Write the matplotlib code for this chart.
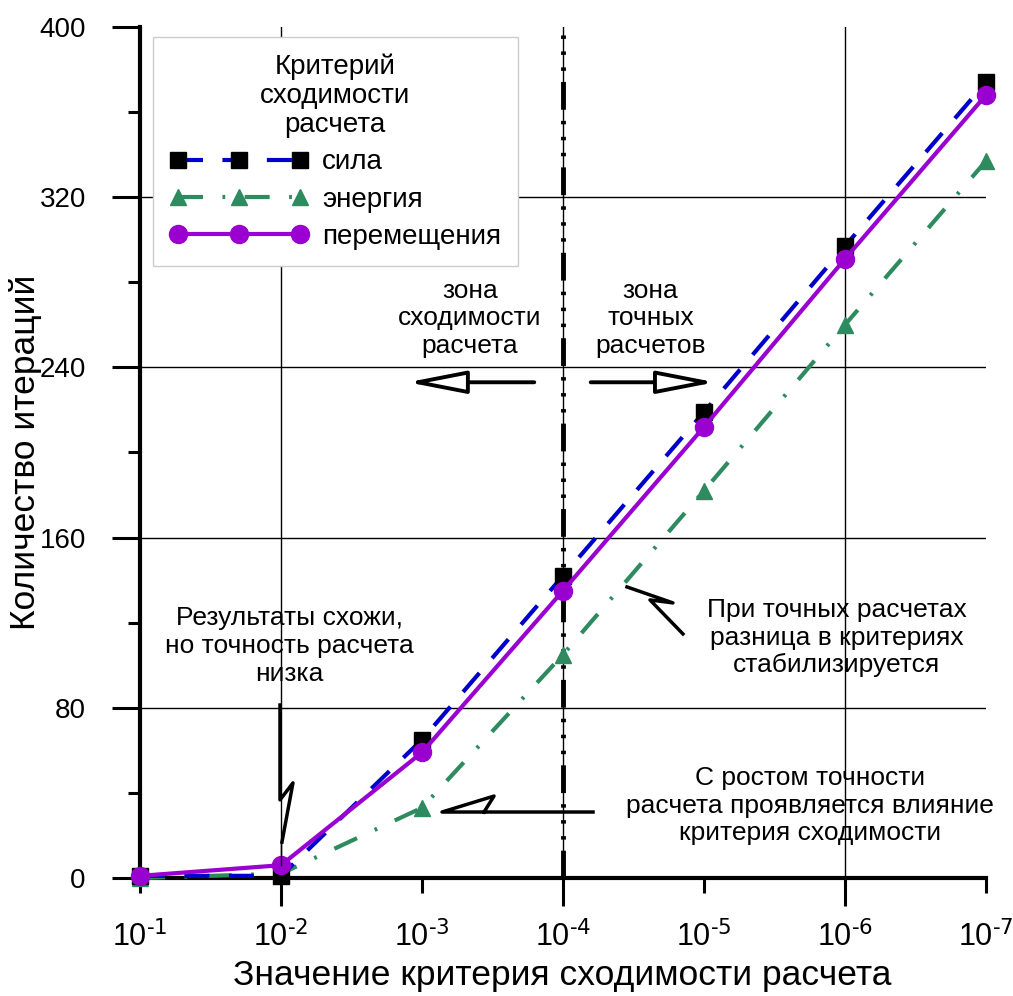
import matplotlib
matplotlib.use("Agg")
import matplotlib.pyplot as plt
from matplotlib.patches import FancyArrowPatch

plt.rcParams['font.family'] = ['Liberation Sans', 'DejaVu Sans']
plt.rcParams['mathtext.fontset'] = 'custom'
plt.rcParams['mathtext.rm'] = 'Liberation Sans Narrow'
plt.rcParams['lines.scale_dashes'] = False
NARROW = ['Liberation Sans Narrow', 'Liberation Sans', 'DejaVu Sans']

# значения критерия сходимости (ось X)
crit_labels = [r'$\mathregular{10^{\text{-1}}}$', r'$\mathregular{10^{\text{-2}}}$',
               r'$\mathregular{10^{\text{-3}}}$', r'$\mathregular{10^{\text{-4}}}$',
               r'$\mathregular{10^{\text{-5}}}$', r'$\mathregular{10^{\text{-6}}}$',
               r'$\mathregular{10^{\text{-7}}}$']
x = list(range(len(crit_labels)))

# количество итераций
sila = [1, 1, 65, 142, 219, 297, 374]
energiya = [0, 2, 33, 105, 182, 260, 337]
peremeshcheniya = [1, 6, 59, 135, 212, 291, 368]

fig = plt.figure(figsize=(10.13, 9.96), dpi=100)
ax = fig.add_axes([0.1382, 0.1185, 0.8351, 0.8544])

ax.set_xlim(0, 6)
ax.set_ylim(0, 400)

# сетка
for yv in [80, 160, 240, 320]:
    ax.axhline(yv, color='black', lw=1, zorder=1)
for xv in [1, 3, 5]:
    ax.axvline(xv, color='black', lw=1, zorder=1)
ax.axvline(3, color='black', lw=3.5, dashes=(20, 8, 2.5, 9, 2.5, 9, 2.5, 8), zorder=1)

ax.plot(x, sila, color='#0000cc', lw=3, dashes=(18, 14), marker='s', ms=12,
        mfc='black', mec='black', label='сила', clip_on=False, zorder=4)
ax.plot(x, energiya, color='#2e8b5f', lw=3, dashes=(18, 14, 2, 14), marker='^', ms=12,
        mfc='#2e8b5f', mec='#2e8b5f', label='энергия', clip_on=False, zorder=3)
ax.plot(x, peremeshcheniya, color='#9a00d0', lw=3, marker='o', ms=13,
        mfc='#9a00d0', mec='#9a00d0', label='перемещения', clip_on=False, zorder=5)

# оси
for s in ['top', 'right']:
    ax.spines[s].set_visible(False)
for s in ['left', 'bottom']:
    ax.spines[s].set_linewidth(3)

ax.set_yticks([0, 80, 160, 240, 320, 400])
ax.set_yticks([40, 120, 200, 280, 360], minor=True)
ax.tick_params(axis='y', which='major', length=20, width=2.2, pad=19, labelsize=20)
ax.tick_params(axis='y', which='minor', length=9, width=2.2)

ax.set_xticks([1, 3, 5])
ax.set_xticklabels([crit_labels[i] for i in [1, 3, 5]])
ax.set_xticks([0, 2, 4, 6], minor=True)
ax.set_xticklabels([crit_labels[i] for i in [0, 2, 4, 6]], minor=True)
ax.tick_params(axis='x', which='major', length=20, width=2.2, pad=11, labelsize=22)
ax.tick_params(axis='x', which='minor', length=11, width=2.2, pad=20, labelsize=22)

fig.text(0.025, 0.546, 'Количество итераций', rotation=90, ha='center', va='center',
         fontsize=25.5, family=NARROW)
fig.text(0.555, 0.021, 'Значение критерия сходимости расчета', ha='center', va='center',
         fontsize=25.5, family=NARROW)

leg = ax.legend(loc='upper left', bbox_to_anchor=(0.015, 0.988), title='Критерий\nсходимости\nрасчета',
                fontsize=20, title_fontsize=20, numpoints=3, handlelength=5.0, handletextpad=0.5,
                labelspacing=0.4, fancybox=False, framealpha=1, edgecolor='#cccccc', borderpad=0.6,
                borderaxespad=0)
leg.get_frame().set_linewidth(1)
leg.get_title().set_multialignment('center')
leg.get_title().set_linespacing(1.15)
leg.set_zorder(6)

# подписи
ax.text(2.34, 263, 'зона\nсходимости\nрасчета', ha='center', va='center', fontsize=19)
ax.text(3.62, 263, 'зона\nточных\nрасчетов', ha='center', va='center', fontsize=19)
ax.text(1.06, 109, 'Результаты схожи,\nно точность расчета\nнизка', ha='center', va='center', fontsize=19)
ax.text(4.94, 113, 'При точных расчетах\nразница в критериях\nстабилизируется', ha='center', va='center', fontsize=19)
ax.text(4.75, 34, 'С ростом точности\nрасчета проявляется влияние\nкритерия сходимости', ha='center', va='center', fontsize=19)

# стрелки зон
for x0, x1 in [(2.816, 1.879), (3.177, 4.099)]:
    arr = FancyArrowPatch((x0, 233), (x1, 233), arrowstyle='-|>,head_length=1.8,head_width=0.35',
                          mutation_scale=20, fc='white', ec='black', lw=2.8, zorder=6)
    ax.add_patch(arr)

# выноски
ax.plot([0.993, 0.993, 1.085, 1.007], [81.3, 36.7, 44.7, 16.9], color='black', lw=2.5, zorder=6)
ax.plot([1.0, 1.0], [16.9, 6], color='black', lw=1, zorder=6)
ax.plot([3.213, 2.142, 2.511, 2.44], [31, 31, 38.5, 31], color='black', lw=2.5, zorder=6)
ax.plot([3.454, 3.780, 3.617, 3.851], [136.8, 129.3, 130.7, 114.7], color='black', lw=2.5, zorder=6)

fig.savefig('out.png', dpi=100)
